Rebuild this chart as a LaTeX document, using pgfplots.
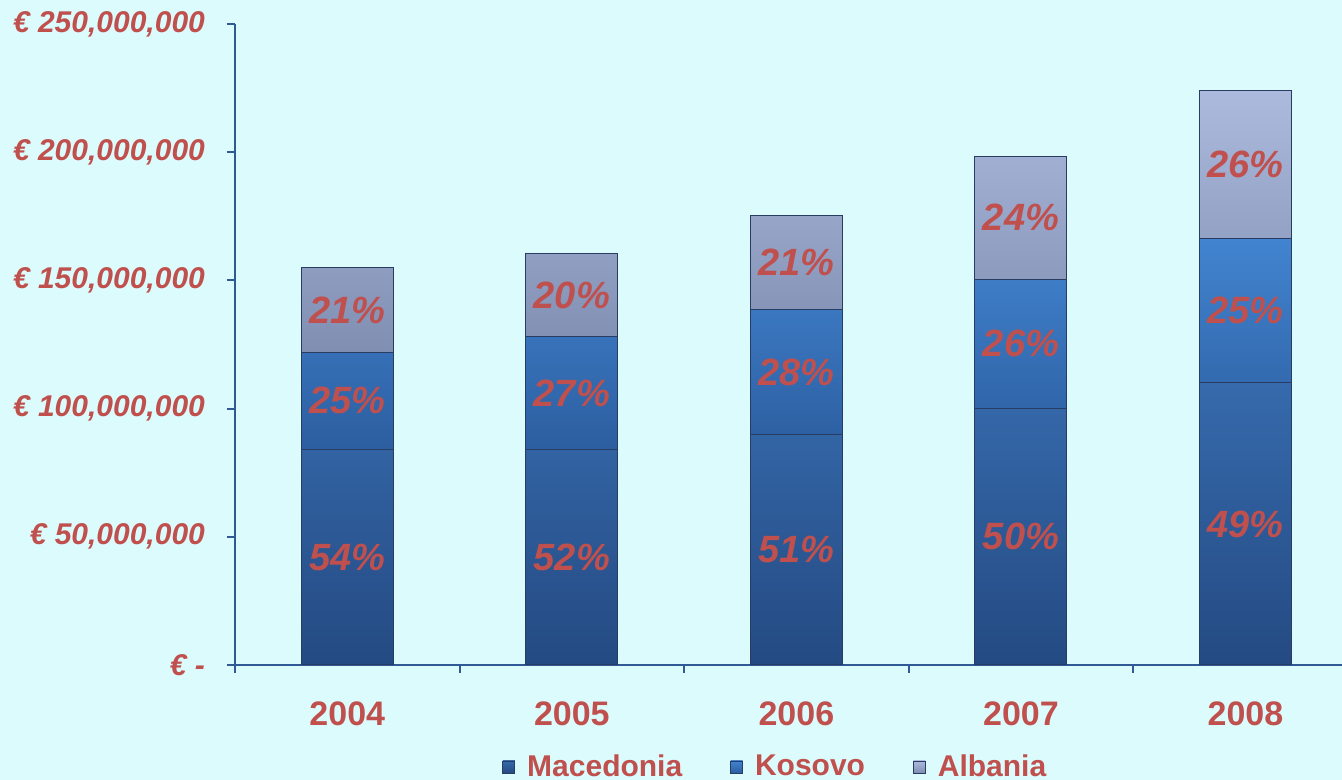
\documentclass[border=0pt]{standalone}
\usepackage{pgfplots}
\pgfplotsset{compat=1.18}
\usepackage{fontspec}
\setmainfont{Liberation Sans}

\definecolor{bg}{RGB}{220,251,252}
\definecolor{txt}{RGB}{192,80,77}
\definecolor{axisblue}{RGB}{47,90,150}
\definecolor{macTop}{RGB}{54,106,172}
\definecolor{macBot}{RGB}{36,74,130}
\definecolor{kosTop}{RGB}{66,132,208}
\definecolor{kosBot}{RGB}{44,94,160}
\definecolor{albTop}{RGB}{172,186,222}
\definecolor{albBot}{RGB}{128,142,178}
\definecolor{edge}{RGB}{40,60,100}

% values in millions of euro
\pgfplotstableread{
x mac kos alb
0 84 38 33
1 84 44 32.5
2 90 48.5 37
3 100 50.5 48
4 110 56.5 57.5
}\spend

\begin{document}
\begin{tikzpicture}
\fill[bg, use as bounding box] (-117.5pt,-57.5pt) rectangle (553.5pt,332.5pt);

\begin{axis}[
    at={(0,0)}, anchor=south west,
    scale only axis, width=553.5pt, height=320.5pt,
    ybar stacked, bar width=46pt,
    xmin=-0.5, xmax=4.43, ymin=0, ymax=250,
    axis x line*=bottom, axis y line*=left,
    axis line style={axisblue, line width=1pt},
    tick style={axisblue, line width=1pt},
    tick align=outside, major tick length=4pt,
    ytick={0,50,100,150,200,250},
    yticklabels={{€ -},{€ 50,000,000},{€ 100,000,000},{€ 150,000,000},{€ 200,000,000},{€ 250,000,000}},
    yticklabel style={font=\fontsize{15}{17}\selectfont\bfseries\itshape, text=txt, anchor=east, xshift=-7.5pt},
    xtick={-0.5,0.5,1.5,2.5,3.5}, xticklabels={},
    extra x ticks={0,1,2,3,4},
    extra x tick labels={2004,2005,2006,2007,2008},
    extra x tick style={major tick length=0pt,
        xticklabel style={font=\fontsize{17}{20}\selectfont\bfseries, text=txt, anchor=center, yshift=-24.5pt}},
    legend style={at={(rel axis cs:0.489,-0.159)}, anchor=center, legend columns=-1,
        draw=none, fill=none, font=\fontsize{15}{18}\selectfont\bfseries, text=txt,
        /tikz/every odd column/.append style={column sep=4pt},
        /tikz/every even column/.append style={column sep=22pt}},
    legend image code/.code={\draw[#1, draw=edge, line width=0.4pt] (0pt,-3pt) rectangle (6pt,3pt);},
]
\addplot[top color=macTop, bottom color=macBot, draw=edge, line width=0.5pt] table[x=x, y=mac] {\spend};
\addplot[top color=kosTop, bottom color=kosBot, draw=edge, line width=0.5pt] table[x=x, y=kos] {\spend};
\addplot[top color=albTop, bottom color=albBot, draw=edge, line width=0.5pt] table[x=x, y=alb] {\spend};
\legend{Macedonia, Kosovo, Albania}
\end{axis}

% share labels in the middle of each segment
\begin{axis}[
    at={(0,0)}, anchor=south west,
    scale only axis, width=553.5pt, height=320.5pt,
    xmin=-0.5, xmax=4.43, ymin=0, ymax=250,
    hide axis,
    nodes near coords, point meta=explicit symbolic,
    nodes near coords align={center},
    every node near coord/.append style={anchor=center, font=\fontsize{19}{22}\selectfont\bfseries\itshape, text=txt},
]
\addplot[draw=none, mark=none] coordinates {
    (0,42) [54\%] (0,103) [25\%] (0,138.5) [21\%]
    (1,42) [52\%] (1,106) [27\%] (1,144.25) [20\%]
    (2,45) [51\%] (2,114.25) [28\%] (2,157) [21\%]
    (3,50) [50\%] (3,125.25) [26\%] (3,174.5) [24\%]
    (4,55) [49\%] (4,138.25) [25\%] (4,195.25) [26\%]
};
\end{axis}
\end{tikzpicture}
\end{document}
